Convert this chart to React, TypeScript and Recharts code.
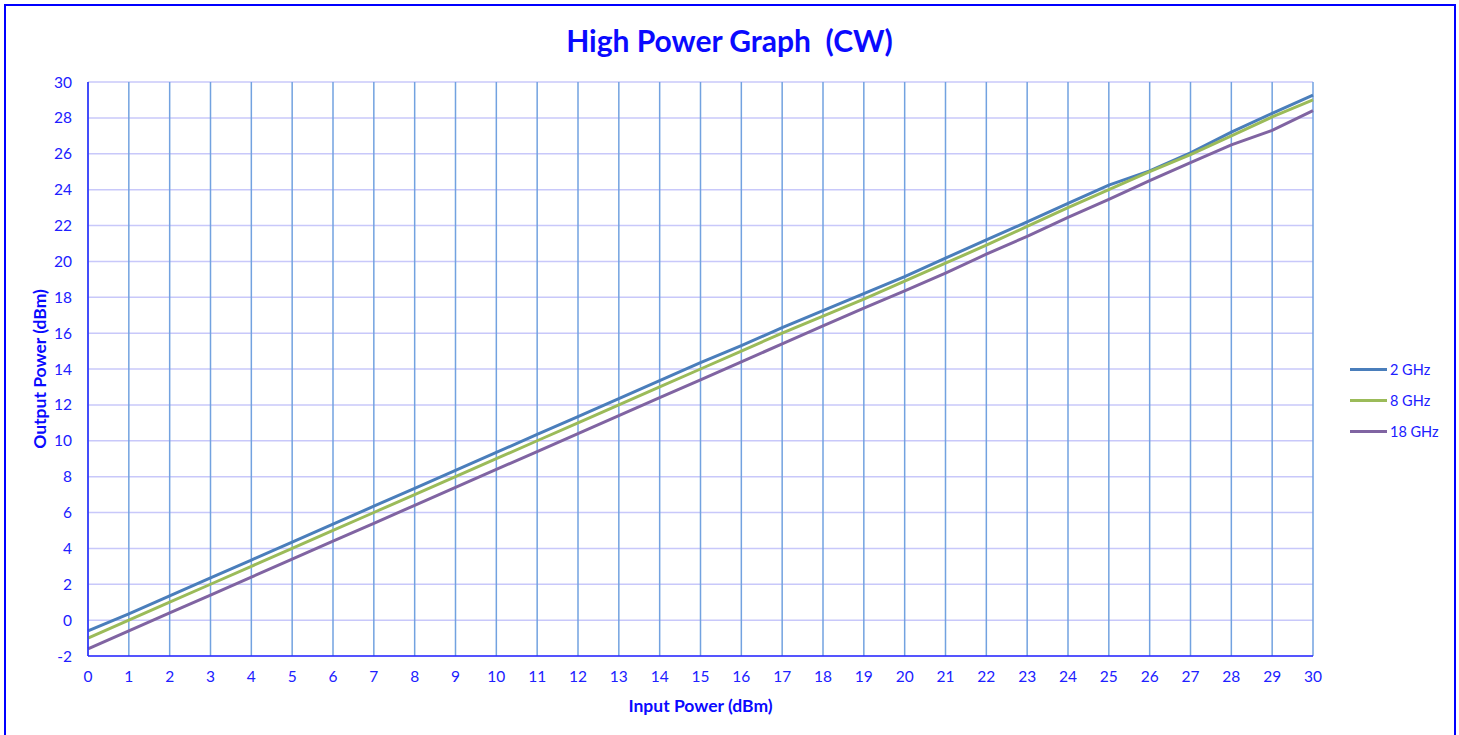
import { CartesianGrid, Line, LineChart, XAxis, YAxis } from 'recharts'

const inputPower = [0, 1, 2, 3, 4, 5, 6, 7, 8, 9, 10, 11, 12, 13, 14, 15, 16, 17, 18, 19, 20, 21, 22, 23, 24, 25, 26, 27, 28, 29, 30]
const ghz2 = [-0.6, 0.35, 1.35, 2.35, 3.35, 4.35, 5.35, 6.35, 7.35, 8.35, 9.35, 10.35, 11.35, 12.35, 13.35, 14.35, 15.3, 16.3, 17.25, 18.2, 19.15, 20.18, 21.2, 22.2, 23.23, 24.25, 25.05, 26.05, 27.2, 28.25, 29.27]
const ghz8 = [-1.0, 0.0, 1.0, 2.0, 3.0, 4.0, 5.0, 6.0, 7.0, 8.0, 9.0, 10.0, 11.0, 12.0, 13.0, 14.0, 15.0, 16.0, 16.95, 17.9, 18.9, 19.9, 20.9, 21.95, 23.0, 24.0, 25.0, 25.95, 27.0, 28.05, 29.0]
const ghz18 = [-1.6, -0.6, 0.4, 1.4, 2.4, 3.4, 4.4, 5.4, 6.4, 7.4, 8.4, 9.4, 10.4, 11.4, 12.4, 13.4, 14.4, 15.4, 16.4, 17.4, 18.35, 19.35, 20.4, 21.4, 22.45, 23.45, 24.5, 25.5, 26.5, 27.3, 28.4]

const xTicks = [0, 1, 2, 3, 4, 5, 6, 7, 8, 9, 10, 11, 12, 13, 14, 15, 16, 17, 18, 19, 20, 21, 22, 23, 24, 25, 26, 27, 28, 29, 30]
const yTicks = [-2, 0, 2, 4, 6, 8, 10, 12, 14, 16, 18, 20, 22, 24, 26, 28, 30]

const series = [
  { key: 'g2', name: '2 GHz', color: '#4a7ebb' },
  { key: 'g8', name: '8 GHz', color: '#9bbb59' },
  { key: 'g18', name: '18 GHz', color: '#8064a2' },
]

const BLUE = '#0a0aff'
const TICK = '#2020ff'
const FONT = 'Lato, "Open Sans", sans-serif'

export default function App() {
  const data = inputPower.map((x, i) => ({ x, g2: ghz2[i], g8: ghz8[i], g18: ghz18[i] }))

  return (
    <div style={{ position: 'absolute', left: 0, top: 0, width: 1459, height: 735, overflow: 'hidden', background: '#fff', fontFamily: FONT }}>
      <div
        style={{
          position: 'absolute',
          left: 4,
          top: 4,
          width: 1452,
          height: 760,
          border: '2px solid #0000ff',
          boxSizing: 'border-box',
        }}
      />
      <div
        style={{
          position: 'absolute',
          left: 0,
          width: 1459,
          top: 21,
          textAlign: 'center',
          color: BLUE,
          fontWeight: 700,
          fontSize: 30,
          lineHeight: '38px',
          whiteSpace: 'pre',
        }}
      >
        {'High Power Graph  (CW)'}
      </div>

      <div style={{ position: 'absolute', left: 0, top: 0 }}>
        <LineChart width={1459} height={735} data={data} margin={{ top: 82, right: 146, left: 0, bottom: 0 }}>
          <CartesianGrid vertical={false} stroke="#c8c8fa" strokeWidth={1.5} />
          <CartesianGrid horizontal={false} stroke="#72a2e0" strokeWidth={1.5} />
          <XAxis
            dataKey="x"
            type="number"
            domain={[0, 30]}
            ticks={xTicks}
            interval={0}
            height={79}
            stroke="#2a2aff"
            strokeWidth={1.5}
            tickLine={false}
            tickSize={0}
            tickMargin={15}
            tick={{ fill: TICK, fontSize: 15.5, fontFamily: FONT }}
            label={{ value: 'Input Power (dBm)', position: 'center', dy: 10, fill: BLUE, fontSize: 17.5, fontWeight: 700, fontFamily: FONT }}
          />
          <YAxis
            type="number"
            domain={[-2, 30]}
            ticks={yTicks}
            interval={0}
            width={88}
            stroke="#2a2aff"
            strokeWidth={1.5}
            tickLine={false}
            tickSize={0}
            tickMargin={16}
            tick={{ fill: TICK, fontSize: 15.5, fontFamily: FONT }}
            label={{ value: 'Output Power (dBm)', angle: -90, position: 'center', dx: -4, fill: BLUE, fontSize: 17.5, fontWeight: 700, fontFamily: FONT }}
          />
          {series.map((s) => (
            <Line
              key={s.key}
              type="linear"
              dataKey={s.key}
              name={s.name}
              stroke={s.color}
              strokeWidth={3}
              dot={false}
              activeDot={false}
              isAnimationActive={false}
            />
          ))}
        </LineChart>
      </div>

      <div style={{ position: 'absolute', left: 1350, top: 354 }}>
        {series.map((s) => (
          <div key={s.key} style={{ display: 'flex', alignItems: 'center', height: 31 }}>
            <div style={{ width: 37, height: 3, background: s.color }} />
            <span style={{ marginLeft: 3, color: TICK, fontSize: 14.5 }}>{s.name}</span>
          </div>
        ))}
      </div>
    </div>
  )
}
